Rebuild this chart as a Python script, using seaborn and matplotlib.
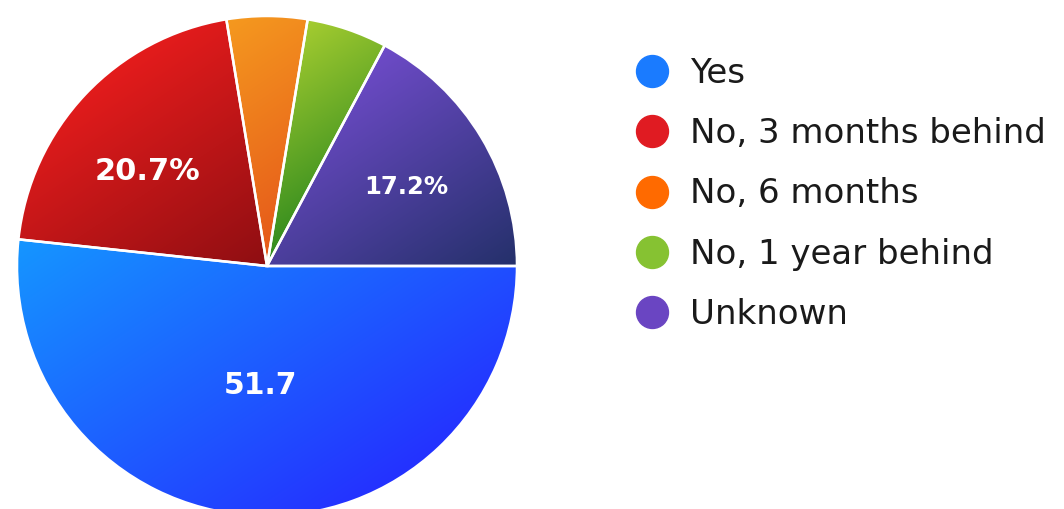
import numpy as np
import matplotlib
matplotlib.use("Agg")
import matplotlib.pyplot as plt
import seaborn as sns
from matplotlib.lines import Line2D
from matplotlib.patches import Wedge
from matplotlib.colors import to_rgb

# ---- data ----
categories = ["Yes", "No, 3 months behind", "No, 6 months", "No, 1 year behind", "Unknown"]
values = [51.7, 20.7, 5.2, 5.2, 17.2]
slice_labels = ["51.7", "20.7%", "", "", "17.2%"]

# ---- styling ----
legend_colors = ["#1a7bff", "#e01b22", "#ff6a00", "#86c232", "#6a45c2"]
grad_light = ["#1596ff", "#e61c1c", "#f5991f", "#a5cc30", "#6e4bc8"]
grad_dark = ["#2431ff", "#8e0e12", "#e5561a", "#2f8a1e", "#24306a"]
label_sizes = [21.5, 22, 18, 18, 17.5]
label_dist = [0.48, 0.61, 0.62, 0.62, 0.64]
label_ang_off = [0, 5, 0, 0, -1.5]

sns.set_theme(style="white")
plt.rcParams["font.family"] = ["DejaVu Sans"]

W, H = 1064, 509
fig = plt.figure(figsize=(W / 100, H / 100), dpi=100)
fig.patch.set_facecolor("white")

cx, cy, R = 267, 266, 250
ax = fig.add_axes([(cx - R) / W, (H - cy - R) / H, 2 * R / W, 2 * R / H])

wedges, texts = ax.pie(values, colors=legend_colors, startangle=0, counterclock=False,
                       wedgeprops=dict(linewidth=0), radius=1.0)
ax.set_xlim(-1, 1)
ax.set_ylim(-1, 1)
ax.set_aspect("equal")
ax.axis("off")

# gradient fills clipped to each wedge
n = 400
xs = np.linspace(-1, 1, n)
X, Y = np.meshgrid(xs, xs)
d = np.array([0.55, -0.835])
for i, w in enumerate(wedges):
    verts = w.get_path().vertices
    proj = verts @ d
    t = ((X * d[0] + Y * d[1]) - proj.min()) / (proj.max() - proj.min() + 1e-9)
    t = np.clip(t, 0, 1)[..., None]
    c0 = np.array(to_rgb(grad_light[i]))
    c1 = np.array(to_rgb(grad_dark[i]))
    img = c0 * (1 - t) + c1 * t
    im = ax.imshow(img, extent=(-1, 1, -1, 1), origin="lower", zorder=2, interpolation="bilinear")
    im.set_clip_path(w)

# white separators
for w in wedges:
    ax.add_patch(Wedge(w.center, w.r, w.theta1, w.theta2, facecolor="none",
                       edgecolor="white", linewidth=1.8, zorder=3))

# slice labels
for i, w in enumerate(wedges):
    if not slice_labels[i]:
        continue
    ang = np.deg2rad((w.theta1 + w.theta2) / 2 + label_ang_off[i])
    ax.text(label_dist[i] * np.cos(ang), label_dist[i] * np.sin(ang), slice_labels[i],
            ha="center", va="center", color="white", fontsize=label_sizes[i],
            fontweight="bold", family=["DejaVu Sans"], zorder=5)

handles = [Line2D([0], [0], marker="o", linestyle="none", markersize=23,
                  markerfacecolor=c, markeredgecolor=c) for c in legend_colors]
leg = fig.legend(handles, categories, loc="upper left", bbox_to_anchor=(634 / W, 1 - 57 / H),
                 frameon=False, prop={"family": ["DejaVu Sans"], "size": 24.5},
                 handletextpad=0.58, labelspacing=0.8, handlelength=1.08, borderpad=0, borderaxespad=0)
for t in leg.get_texts():
    t.set_color("#1a1a1a")

fig.savefig("out.png", dpi=100, facecolor="white")
